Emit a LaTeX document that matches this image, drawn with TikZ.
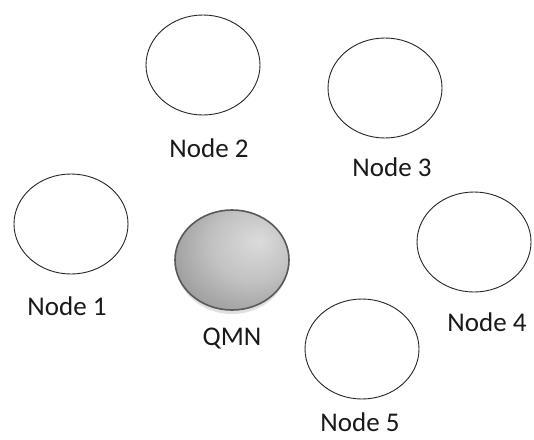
\documentclass[tikz,border=0pt]{standalone}
\usepackage{fontspec}
\setmainfont{Carlito}
\usetikzlibrary{shapes.geometric}
\pgfdeclareradialshading{qmnshade}{\pgfpoint{12bp}{10bp}}{%
  color(0bp)=(black!14);
  color(18bp)=(black!24);
  color(38bp)=(black!42);
  color(60bp)=(black!58);
  color(70bp)=(black!62)}
\begin{document}
\begin{tikzpicture}[x=1pt,y=-1pt,
  netnode/.style={ellipse, draw=black!85, line width=0.9pt, fill=white,
    minimum width=114pt, minimum height=100pt, inner sep=0pt},
  qmnnode/.style={ellipse, draw=black!65, line width=1.6pt, shading=qmnshade,
    minimum width=114pt, minimum height=100pt, inner sep=0pt},
  lbl/.style={font=\fontsize{27}{30}\selectfont, text=black!90, inner sep=0pt}]
\useasboundingbox (0,0) rectangle (534,439);
\fill[white] (0,0) rectangle (534,439);
% shadow of QMN
\node[ellipse, fill=black!30, opacity=0.4, minimum width=112pt, minimum height=100pt, inner sep=0pt] (qmnshadow) at (232,264) {};
\node[qmnnode] (qmn) at (232,260) {};
\node[netnode] (n1) at (71,224) {};
\node[netnode] (n2) at (203,65) {};
\node[netnode] (n3) at (385,88) {};
\node[netnode] (n4) at (474,242) {};
\node[netnode] (n5) at (362,349) {};
\node[lbl] (l1) at (67,306) {Node 1};
\node[lbl] (l2) at (209,148) {Node 2};
\node[lbl] (l3) at (392,167) {Node 3};
\node[lbl] (l4) at (487,322) {Node 4};
\node[lbl] (l5) at (360,422) {Node 5};
\node[lbl] (lq) at (232,339) {QMN};
\end{tikzpicture}
\end{document}
